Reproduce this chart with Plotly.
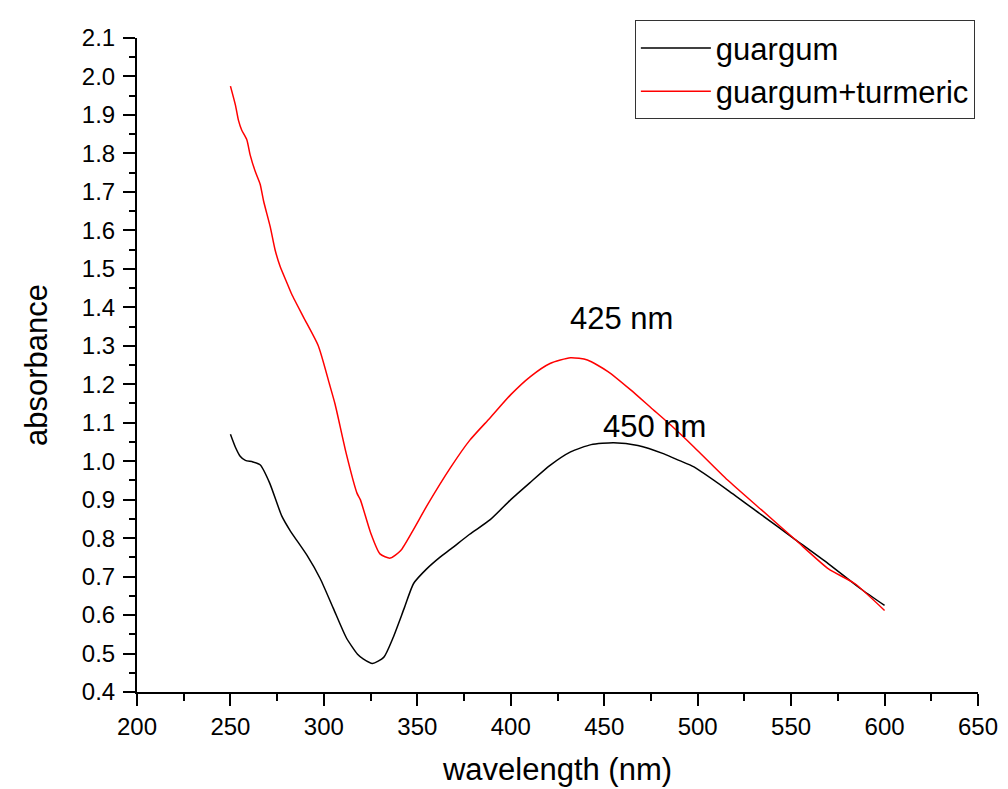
import plotly.graph_objects as go

# guargum (black)
gg_x = [250, 252.6, 255.2, 258, 262, 266, 271, 277.5, 282, 291, 298, 305, 312, 318, 321, 326, 332, 337, 343, 348, 355, 362, 368, 378, 389, 400, 410, 421, 432, 443, 455, 468, 482, 490, 498, 516, 534, 552, 570, 587, 600]
gg_y = [1.07, 1.037, 1.013, 1.002, 0.998, 0.99, 0.943, 0.857, 0.819, 0.755, 0.695, 0.618, 0.541, 0.498, 0.486, 0.474, 0.490, 0.541, 0.618, 0.682, 0.72, 0.75, 0.772, 0.81, 0.848, 0.90, 0.943, 0.989, 1.024, 1.043, 1.048, 1.041, 1.019, 1.002, 0.985, 0.925, 0.861, 0.797, 0.733, 0.669, 0.625]

# guargum+turmeric (red)
gt_x = [250, 252.7, 254.3, 256, 258.8, 260.5, 263.2, 265.9, 267.7, 271.3, 273.9, 276.6, 280.2, 282.8, 290, 297, 303, 306, 312, 317.7, 319.5, 325, 330, 335.5, 341, 348, 355, 368, 378, 389, 400, 410.5, 421, 432, 441, 452, 464, 475, 486, 498, 516, 534, 552, 570, 584, 600]
gt_y = [1.975, 1.925, 1.886, 1.861, 1.835, 1.797, 1.754, 1.72, 1.677, 1.609, 1.549, 1.506, 1.464, 1.434, 1.366, 1.30, 1.20, 1.148, 1.019, 0.917, 0.90, 0.814, 0.759, 0.748, 0.767, 0.823, 0.883, 0.985, 1.054, 1.113, 1.173, 1.22, 1.254, 1.269, 1.263, 1.233, 1.186, 1.139, 1.092, 1.037, 0.951, 0.874, 0.797, 0.72, 0.682, 0.612]

labels = ["425 nm", "450 nm"]
label_x = [459.3, 477]
label_y = [1.370, 1.091]

FONT = "Liberation Sans, Arial, sans-serif"

fig = go.Figure()
fig.add_trace(go.Scatter(x=gg_x, y=gg_y, mode="lines", name="guargum",
                         line=dict(color="#000000", width=1.5, shape="spline", smoothing=0.6)))
fig.add_trace(go.Scatter(x=gt_x, y=gt_y, mode="lines", name="guargum+turmeric",
                         line=dict(color="#ff0000", width=1.5, shape="spline", smoothing=0.6)))

for t, ax_, ay_ in zip(labels, label_x, label_y):
    fig.add_annotation(x=ax_, y=ay_, text=t, showarrow=False,
                       font=dict(size=31, color="black", family=FONT))

# page body has an 8px margin, so margins are offset accordingly
fig.update_layout(
    width=1008, height=789,
    margin=dict(l=129, r=38, t=20, b=105),
    paper_bgcolor="white", plot_bgcolor="white",
    font=dict(family=FONT, color="black"),
    showlegend=True,
    legend=dict(x=0.592, y=1.027, xanchor="left", yanchor="top",
                bgcolor="white", bordercolor="#333333", borderwidth=1,
                font=dict(size=31, family=FONT), itemwidth=70,
                tracegroupgap=0),
    xaxis=dict(range=[200, 650], dtick=50, tick0=200, showgrid=False, zeroline=False,
               automargin=False,
               showline=True, linecolor="black", linewidth=2,
               ticks="outside", ticklen=12, tickwidth=2, tickcolor="black",
               tickfont=dict(size=24), ticklabelstandoff=0,
               minor=dict(dtick=25, ticks="outside", ticklen=7, tickwidth=2, tickcolor="black", showgrid=False),
               title=dict(text="wavelength (nm)", font=dict(size=31), standoff=20)),
    yaxis=dict(range=[0.4, 2.1], dtick=0.1, tick0=0.4, tickformat=".1f", showgrid=False, zeroline=False,
               automargin=False,
               showline=True, linecolor="black", linewidth=2,
               ticks="outside", ticklen=12, tickwidth=2, tickcolor="black",
               tickfont=dict(size=24), ticklabelstandoff=3,
               minor=dict(dtick=0.05, ticks="outside", ticklen=6, tickwidth=2, tickcolor="black", showgrid=False),
               title=dict(text="absorbance", font=dict(size=31), standoff=25)),
)

fig.write_html("out.html")
